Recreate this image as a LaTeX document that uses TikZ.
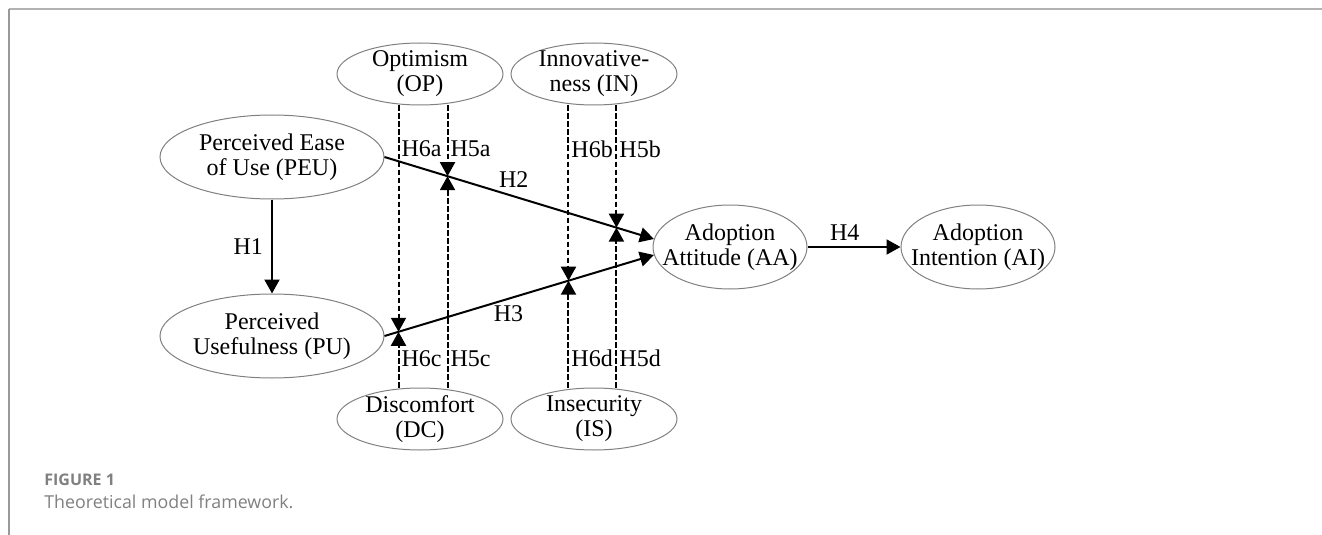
\documentclass[tikz,border=0pt]{standalone}
\usepackage{fontspec}
\setmainfont{Liberation Serif}
\newfontfamily\capfont{Open Sans}
\usetikzlibrary{arrows.meta,positioning,calc,shapes.geometric}

\begin{document}
\begin{tikzpicture}[x=0.5pt,y=-0.5pt,font=\fontsize{12}{12.5}\selectfont,>={Triangle[length=7pt,width=7.5pt]},
  var/.style={draw=gray,line width=0.5pt,ellipse,inner sep=-3pt,align=center},
  big/.style={var,minimum width=112pt,minimum height=42pt},
  result/.style={var,inner xsep=-9pt,minimum width=77pt,minimum height=42pt},
  mod/.style={var,minimum width=83pt,minimum height=31pt},
  hyp/.style={->,line width=1pt},
  modl/.style={->,line width=1pt,dash pattern=on 2.75pt off 1.25pt},
  lab/.style={inner sep=1pt}]
\useasboundingbox (0,0) rectangle (1322,535);
\draw[gray!60,line width=1pt] (1322,9) -- (9,9);
\draw[gray!80,line width=0.8pt] (9,9) -- (9,535);
% constructs
\node[big] (peu) at (272,157) {Perceived Ease\\of Use (PEU)};
\node[big,below=47pt of peu] (pu) {Perceived\\Usefulness (PU)};
\node[result] (aa) at (730,247) {Adoption\\Attitude (AA)};
\node[result,right=46.5pt of aa] (ai) {Adoption\\Intention (AI)};
\node[mod] (op) at (420,74) {Optimism\\(OP)};
\node[mod,right=3.5pt of op] (in) {Innovative-\\ness (IN)};
\node[mod] (dc) at (420,419) {Discomfort\\(DC)};
\node[mod,right=3.5pt of dc] (is) {Insecurity\\(IS)};
% main paths
\draw[hyp] (peu) -- node[lab,left=3pt] {H1} (pu);
\draw[hyp] (peu.east) -- node[lab,pos=0.48,above=3pt] {H2} (aa.174);
\draw[hyp] (pu.east) -- node[lab,pos=0.46,below=2pt] {H3} (aa.186);
\draw[hyp] (aa) -- node[lab,pos=0.4,above=2pt] {H4} (ai);
% moderation points
\coordinate (m5a) at ($(peu.east)!0.234!(aa.174)$);
\coordinate (m5b) at ($(peu.east)!0.861!(aa.174)$);
\coordinate (m6a) at ($(pu.east)!0.052!(aa.186)$);
\coordinate (m6b) at ($(pu.east)!0.683!(aa.186)$);
\draw[modl] (m6a |- op.south) -- node[lab,pos=0,anchor=north west,yshift=-16pt] {H6a} (m6a);
\draw[modl] (m5a |- op.south) -- node[lab,pos=0,anchor=north west,yshift=-16pt] {H5a} (m5a);
\draw[modl] (m6b |- in.south) -- node[lab,pos=0,anchor=north west,yshift=-16pt] {H6b} (m6b);
\draw[modl] (m5b |- in.south) -- node[lab,pos=0,anchor=north west,yshift=-16pt] {H5b} (m5b);
\draw[modl] (m6a |- dc.north) -- node[lab,pos=0,anchor=south west,yshift=9pt] {H6c} (m6a);
\draw[modl] (m5a |- dc.north) -- node[lab,pos=0,anchor=south west,yshift=9pt] {H5c} (m5a);
\draw[modl] (m6b |- is.north) -- node[lab,pos=0,anchor=south west,yshift=9pt] {H6d} (m6b);
\draw[modl] (m5b |- is.north) -- node[lab,pos=0,anchor=south west,yshift=9pt] {H5d} (m5b);
% caption
\node[anchor=base west,inner sep=0pt,text=gray,font=\capfont\bfseries\fontsize{8}{9}\selectfont] (fig) at (44,485) {FIGURE 1};
\node[anchor=base west,inner sep=0pt,text=gray,font=\capfont\fontsize{8.9}{10}\selectfont] (cap) at (44,508) {Theoretical model framework.};
\end{tikzpicture}
\end{document}
